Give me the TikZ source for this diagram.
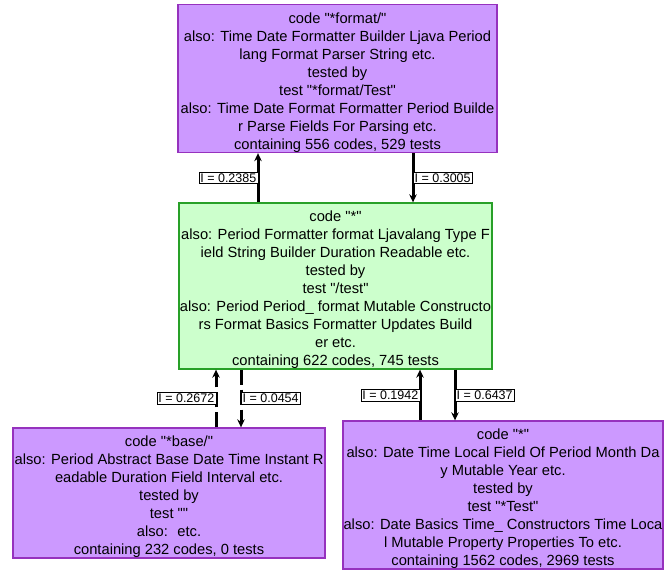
\documentclass[tikz,border=0pt]{standalone}
\usepackage{fontspec}
\setmainfont{Liberation Sans}[Ligatures=TeXOff]
\usepackage{tikz}
\usetikzlibrary{arrows.meta}
\usetikzlibrary{shapes,positioning}

\definecolor{pkgfill}{RGB}{204,153,255}
\definecolor{pkgline}{RGB}{150,50,190}
\definecolor{rootfill}{RGB}{204,255,204}
\definecolor{rootline}{RGB}{40,160,40}
\newcommand{\topstrut}{\rule{0pt}{19pt}}

\begin{document}
\begin{tikzpicture}[x=1pt,y=-1pt,
    pkg/.style={rectangle,draw=pkgline,fill=pkgfill,line width=1.3pt,inner sep=0pt,
      align=center,font={\fontsize{14.7}{18}\selectfont}},
    root/.style={pkg,draw=rootline,fill=rootfill},
    flow/.style={line width=3pt,-{Stealth[length=8pt,width=7.5pt]}},
    full/.style={solid},
    broken/.style={dash pattern=on 15pt off 5pt},
    weight/.style={rectangle,draw,thin,solid,fill=white,inner sep=1.5pt,
      font={\fontsize{12.5}{13}\selectfont}}]
  \useasboundingbox (0,0) rectangle (668,571);
  % packages
  \node[pkg,minimum width=319,minimum height=147] (top) at (337.5,78.5)
    {\topstrut code "*format/"\\also: Time Date Formatter Builder Ljava Period\\lang Format Parser String etc.\\tested by\\test "*format/Test"\\also: Time Date Format Formatter Period Builde\\r Parse Fields For Parsing etc.\\containing 556 codes, 529 tests};
  \node[root,minimum width=313,minimum height=164] (mid) at (335.5,286)
    {\topstrut code "*"\\also: Period Formatter format Ljavalang Type F\\ield String Builder Duration Readable etc.\\tested by\\test "/test"\\also: Period Period\_ format Mutable Constructo\\rs Format Basics Formatter Updates Build\\er etc.\\containing 622 codes, 745 tests};
  \node[pkg,minimum width=312,minimum height=126] (base) at (169,493)
    {\topstrut code "*base/"\\also: Period Abstract Base Date Time Instant R\\eadable Duration Field Interval etc.\\tested by\\test ""\\also: \ etc.\\containing 232 codes, 0 tests};
  \node[pkg,minimum width=320,minimum height=146] (other) at (503,495)
    {\topstrut code "*"\\also: Date Time Local Field Of Period Month Da\\y Mutable Year etc.\\tested by\\test "*Test"\\also: Date Basics Time\_ Constructors Time Loca\\l Mutable Property Properties To etc.\\containing 1562 codes, 2969 tests};
  %%% dependencies
  \foreach \s/\sa/\t/\ta/\x/\v/\side/\kind in {
      mid/north/top/south/258/0.2385/east/full,
      top/south/mid/north/413/0.3005/west/full,
      base/north/mid/south/216/0.2672/east/broken,
      mid/south/base/north/241/0.0454/west/broken,
      other/north/mid/south/420/0.1942/east/full,
      mid/south/other/north/455/0.6437/west/full}{
    \coordinate (x_\x) at (\x,0);
    \draw[flow,\kind] (\s.\sa -| x_\x) -- node[weight,anchor=\side] {I = \v} (\t.\ta -| x_\x);
  }
\end{tikzpicture}
\end{document}
